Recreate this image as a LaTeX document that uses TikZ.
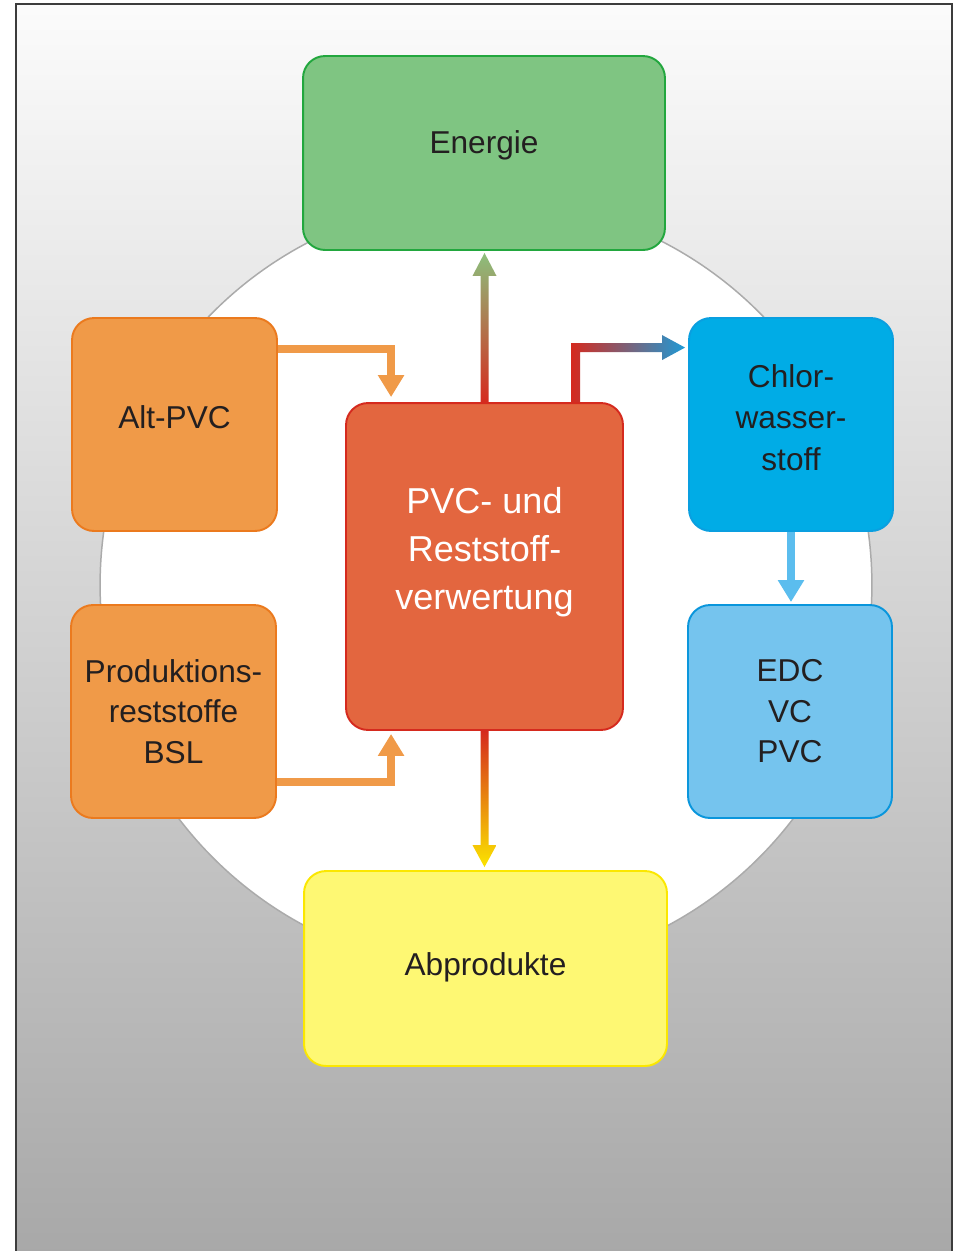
\documentclass[tikz,border=0pt]{standalone}
\usepackage{fontspec}
\setmainfont{Liberation Sans}
\usetikzlibrary{arrows.meta,calc}

\definecolor{framegray}{HTML}{3C3C3C}
\definecolor{ringgray}{HTML}{ABABAB}
\definecolor{textdark}{HTML}{231F20}
\definecolor{energiefill}{HTML}{7FC582}
\definecolor{energiedraw}{HTML}{22A73E}
\definecolor{orangefill}{HTML}{F09A48}
\definecolor{orangedraw}{HTML}{EB7A1E}
\definecolor{pvcfill}{HTML}{E3663F}
\definecolor{pvcdraw}{HTML}{D52A1E}
\definecolor{chlorfill}{HTML}{00ACE6}
\definecolor{chlordraw}{HTML}{0A9FE0}
\definecolor{edcfill}{HTML}{75C4EE}
\definecolor{edcdraw}{HTML}{0A96DC}
\definecolor{abfill}{HTML}{FEF873}
\definecolor{abdraw}{HTML}{FBE700}
\definecolor{greenarrow}{HTML}{8CBF7C}
\definecolor{bluearrow}{HTML}{5BBDEE}
\definecolor{deepblue}{HTML}{1E9AD6}
\definecolor{midorange}{HTML}{EC8A12}
\definecolor{yellowarrow}{HTML}{FBE400}

% deepens the last text line, so the text sits a little higher in its box
\newcommand\dropbase[1]{\rule[-#1]{0pt}{0pt}}

\tikzset{
  box/.style={draw, line width=1.1pt, rounded corners=0.44cm, align=center,
    text=textdark, inner sep=0pt, font=\fontsize{18}{23}\selectfont},
  flow/.style={line width=0.16cm, -{Triangle[width=0.5cm,length=0.44cm]}},
}

\begin{document}
\begin{tikzpicture}[x=0.02cm, y=-0.02cm]
\useasboundingbox (0,0) rectangle (959,1251);

% page background and ring
\shade[top color=black!1.5, bottom color=black!34] (16,4) rectangle (952,1251);
\draw[framegray, line width=1.1pt] (16,1270) -- (16,4) -- (952,4) -- (952,1270);
\draw[ringgray, fill=white, line width=0.85pt] (486,585) circle (7.72cm);

% boxes
\node[box, fill=energiefill, draw=energiedraw, minimum width=7.24cm, minimum height=3.88cm]
  (energie) at (484,153) {Energie\dropbase{12.8pt}};
\node[box, fill=orangefill, draw=orangedraw, minimum width=4.1cm, minimum height=4.26cm]
  (altpvc) at (174.5,424.5) {Alt-PVC\dropbase{8pt}};
\node[box, fill=orangefill, draw=orangedraw, minimum width=4.1cm, minimum height=4.26cm]
  (prod) at (173.5,711.5) {Produktions-\\reststoffe\\BSL};
\node[box, fill=pvcfill, draw=pvcdraw, minimum width=5.54cm, minimum height=6.54cm, text=white,
  font=\fontsize{20.5}{27.3}\selectfont]
  (pvc) at (484.5,566.5) {PVC- und\\Reststoff-\\verwertung\dropbase{21pt}};
\node[box, fill=chlorfill, draw=chlordraw, minimum width=4.08cm, minimum height=4.26cm,
  font=\fontsize{18}{23.4}\selectfont]
  (chlor) at (791,424.5) {Chlor-\\wasser-\\stoff\dropbase{8pt}};
\node[box, fill=edcfill, draw=edcdraw, minimum width=4.08cm, minimum height=4.26cm]
  (edc) at (790,711.5) {EDC\\VC\\PVC};
\node[box, fill=abfill, draw=abdraw, minimum width=7.26cm, minimum height=3.9cm]
  (abprodukte) at (485.5,968.5) {Abprodukte\dropbase{5.5pt}};

% plain arrows
\draw[flow, orangefill] ($(altpvc.north east)+(0,32)$) -| ($(pvc.north west)+(46,-5)$);
\draw[flow, orangefill] ($(prod.south east)+(0,-37)$) -| ($(pvc.south west)+(46,3)$);
\draw[flow, bluearrow] (chlor.south) -- ($(chlor.south |- edc.north)+(0,-2)$);

% shaded arrows
\coordinate (etip) at ($(pvc.north |- energie.south)+(0,2)$);
\shade[bottom color=pvcdraw, top color=greenarrow]
  ($(pvc.north)+(-4,0)$) -- ($(etip)+(-4,23)$) -- ($(etip)+(-12,23)$) -- (etip)
  -- ($(etip)+(12,23)$) -- ($(etip)+(4,23)$) -- ($(pvc.north)+(4,0)$) -- cycle;

\coordinate (atip) at ($(pvc.south |- abprodukte.north)+(0,-3)$);
\shade[top color=pvcdraw, middle color=midorange, bottom color=yellowarrow]
  ($(pvc.south)+(-4,0)$) -- ($(atip)+(-4,-22)$) -- ($(atip)+(-12,-22)$) -- (atip)
  -- ($(atip)+(12,-22)$) -- ($(atip)+(4,-22)$) -- ($(pvc.south)+(4,0)$) -- cycle;

\coordinate (cfoot) at ($(pvc.north)+(91,0)$);
\coordinate (ctip) at ($(chlor.north west)+(-3,30.5)$);
\shade[left color=pvcdraw, middle color=pvcdraw!50!deepblue, right color=deepblue]
  ($(cfoot)+(-4.5,0)$) -- ($(cfoot |- ctip)+(-4.5,-4.5)$) -- ($(ctip)+(-23,-4.5)$)
  -- ($(ctip)+(-23,-12.5)$) -- (ctip) -- ($(ctip)+(-23,12.5)$) -- ($(ctip)+(-23,4.5)$)
  -- ($(cfoot |- ctip)+(4.5,4.5)$) -- ($(cfoot)+(4.5,0)$) -- cycle;
\end{tikzpicture}
\end{document}
